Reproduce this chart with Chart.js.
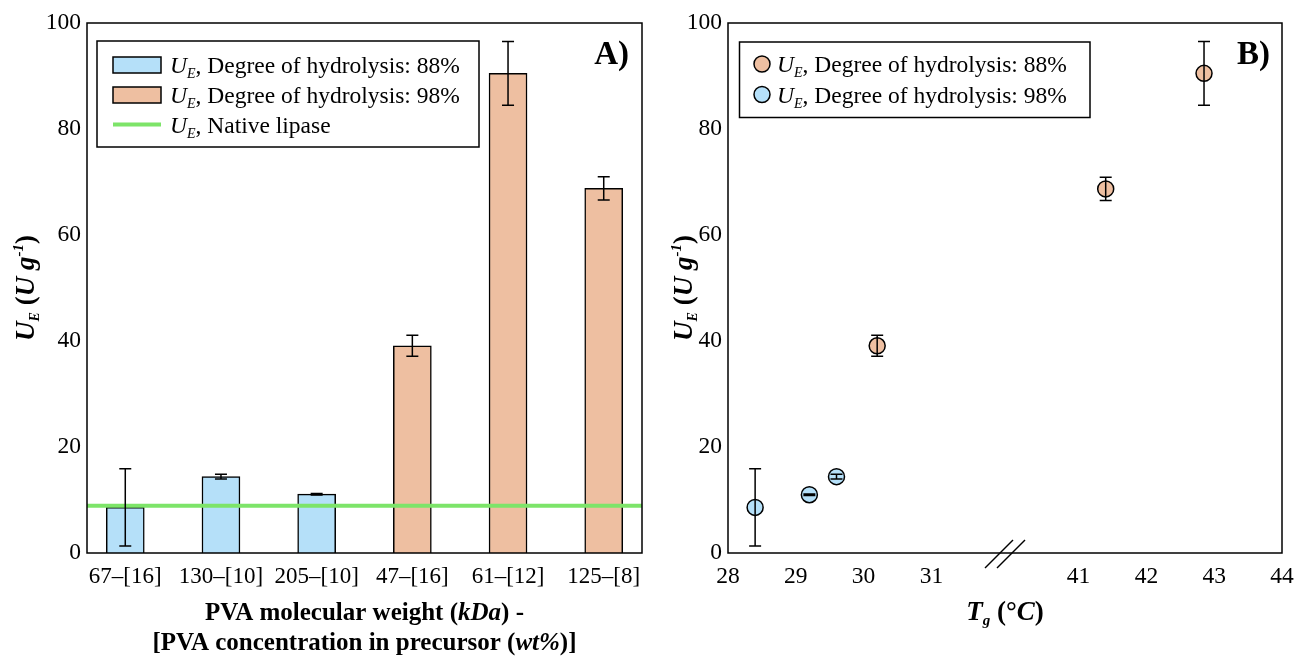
<!DOCTYPE html>
<html><head><meta charset="utf-8">
<script src="https://cdn.jsdelivr.net/npm/chart.js@4.4.1/dist/chart.umd.min.js"></script>
<style>
html,body{margin:0;padding:0;background:#fff;}
#wrap{position:relative;width:1295px;height:658px;overflow:hidden;}
canvas{position:absolute;top:0;}
#cA{left:0}
#cB{left:660px}
</style></head><body>
<div id="wrap"><canvas id="cA" width="660" height="658"></canvas><canvas id="cB" width="635" height="658"></canvas></div>
<script>
// ---------- Panel A data ----------
const categoriesA = ['67\u2013[16]','130\u2013[10]','205\u2013[10]','47\u2013[16]','61\u2013[12]','125\u2013[8]'];
const barsDH88 = [8.6, 14.4, 11.1];
const errDH88  = [7.3, 0.45, 0.15];
const barsDH98 = [39.1, 90.5, 68.8];
const errDH98  = [2.0, 6.0, 2.2];
const nativeLipase = 8.9;
const yTicks = [0, 20, 40, 60, 80, 100];

// ---------- Panel B data ----------
const tgBlue  = [28.4, 29.2, 29.6];
const ueBlue  = [8.6, 11.0, 14.4];
const errBlue = [7.3, 0.15, 0.45];
const tgOrange  = [30.2, 41.4, 42.85];
const ueOrange  = [39.1, 68.7, 90.5];
const errOrange = [2.0, 2.2, 6.0];
const tgTicks = [28, 29, 30, 31, 41, 42, 43, 44];
const legendB = ['Degree of hydrolysis: 88%', 'Degree of hydrolysis: 98%'];
const legendA = ['Degree of hydrolysis: 88%', 'Degree of hydrolysis: 98%', 'Native lipase'];

// broken axis mapping (31 -> 41 compressed)
const GAP = 2.17;
function tgPos(t){ return t <= 35 ? t - 28 : t - 41 + 3 + GAP; }

const SERIF = '"Liberation Serif", "Times New Roman", serif';
const BLUE = 'rgb(181,224,249)';
const ORANGE = 'rgb(238,191,161)';
const GREEN = 'rgb(125,228,105)';
const F = (s) => s + ' ' + SERIF;

function drawRich(ctx, segs, x, y, align){
  let w = 0;
  segs.forEach(s => { ctx.font = s.f; s.w = ctx.measureText(s.t).width; w += s.w; });
  let cx = align === 'center' ? x - w/2 : (align === 'right' ? x - w : x);
  ctx.textBaseline = 'alphabetic'; ctx.textAlign = 'left'; ctx.fillStyle = '#000';
  segs.forEach(s => { ctx.font = s.f; ctx.fillText(s.t, cx, y + (s.dy || 0)); cx += s.w; });
}
function ueSegs(){
  return [
    {t:'U', f:F('bold italic 27px')},
    {t:'E', f:F('bold italic 14px'), dy:5},
    {t:' (', f:F('bold 27px')},
    {t:'U g', f:F('bold italic 27px')},
    {t:'-1', f:F('bold italic 15px'), dy:-11},
    {t:')', f:F('bold 27px')}
  ];
}
function legSegs(txt){
  return [
    {t:'U', f:F('italic 23.5px')},
    {t:'E', f:F('italic 14px'), dy:5},
    {t:', ' + txt, f:F('23.5px')}
  ];
}

const framePlugin = {
  id:'frame',
  afterDraw(chart){
    const {ctx, chartArea:a} = chart;
    ctx.save(); ctx.strokeStyle = '#000'; ctx.lineWidth = 1.5;
    ctx.strokeRect(a.left, a.top, a.right - a.left, a.bottom - a.top);
    ctx.restore();
  }
};

const errorBarPlugin = {
  id:'errbars',
  afterDatasetsDraw(chart, args, opts){
    const {ctx} = chart; const ys = chart.scales.y;
    ctx.save(); ctx.strokeStyle = '#000'; ctx.lineWidth = 1.5;
    chart.data.datasets.forEach((ds, di) => {
      if (!ds.errors) return;
      const meta = chart.getDatasetMeta(di);
      meta.data.forEach((el, i) => {
        const v = ds.data[i].y, e = ds.errors[i];
        const x = el.x, y1 = ys.getPixelForValue(v - e), y2 = ys.getPixelForValue(v + e);
        const h = opts.cap;
        ctx.beginPath();
        ctx.moveTo(x, y1); ctx.lineTo(x, y2);
        ctx.moveTo(x - h, y1); ctx.lineTo(x + h, y1);
        ctx.moveTo(x - h, y2); ctx.lineTo(x + h, y2);
        ctx.stroke();
      });
    });
    ctx.restore();
  }
};

// ---------- Chart A ----------
const decoA = {
  id:'decoA',
  afterDraw(chart){
    const {ctx, chartArea:a} = chart;
    ctx.save();
    // legend
    ctx.fillStyle = '#fff'; ctx.strokeStyle = '#000'; ctx.lineWidth = 1.5;
    ctx.fillRect(97, 41, 382, 106); ctx.strokeRect(97, 41, 382, 106);
    const rows = [65, 95, 124.5];
    [BLUE, ORANGE].forEach((c, i) => {
      ctx.fillStyle = c; ctx.fillRect(113, rows[i] - 8, 48, 16);
      ctx.strokeStyle = '#000'; ctx.lineWidth = 1.5; ctx.strokeRect(113, rows[i] - 8, 48, 16);
    });
    ctx.strokeStyle = GREEN; ctx.lineWidth = 4;
    ctx.beginPath(); ctx.moveTo(113, rows[2]); ctx.lineTo(161, rows[2]); ctx.stroke();
    legendA.forEach((t, i) => drawRich(ctx, legSegs(t), 170, rows[i] + 8, 'left'));
    // panel label
    drawRich(ctx, [{t:'A)', f:F('bold 33px')}], a.right - 13, 64, 'right');
    // y title
    ctx.save(); ctx.translate(25, (a.top + a.bottom)/2); ctx.rotate(-Math.PI/2);
    drawRich(ctx, ueSegs(), 0, 9, 'center'); ctx.restore();
    // x title
    const cx = (a.left + a.right)/2;
    drawRich(ctx, [
      {t:'PVA molecular weight (', f:F('bold 25px')},
      {t:'kDa', f:F('bold italic 25px')},
      {t:') -', f:F('bold 25px')}], cx, 620, 'center');
    drawRich(ctx, [
      {t:'[PVA concentration in precursor (', f:F('bold 25px')},
      {t:'wt%', f:F('bold italic 25px')},
      {t:')]', f:F('bold 25px')}], cx, 650, 'center');
    ctx.restore();
  }
};

new Chart(document.getElementById('cA'), {
  type:'bar',
  data:{ datasets:[
    {type:'line', label:'Native lipase', order:0,
     data:[{x:-0.4, y:nativeLipase}, {x:5.4, y:nativeLipase}],
     borderColor:GREEN, borderWidth:4, pointRadius:0, fill:false},
    {type:'bar', label:legendA[0], order:1, grouped:false,
     data:barsDH88.map((v, i) => ({x:i, y:v})), errors:errDH88,
     backgroundColor:BLUE, borderColor:'#000', borderWidth:1.5, barThickness:38},
    {type:'bar', label:legendA[1], order:1, grouped:false,
     data:barsDH98.map((v, i) => ({x:i + 3, y:v})), errors:errDH98,
     backgroundColor:ORANGE, borderColor:'#000', borderWidth:1.5, barThickness:38}
  ]},
  options:{
    responsive:false, animation:false, devicePixelRatio:1,
    layout:{padding:{left:0, right:18, top:23, bottom:0}},
    plugins:{legend:{display:false}, tooltip:{enabled:false}, errbars:{cap:6}},
    scales:{
      x:{type:'linear', min:-0.4, max:5.4, offset:false,
         grid:{display:false, drawTicks:false}, border:{display:false},
         afterBuildTicks(s){ s.ticks = categoriesA.map((c, i) => ({value:i})); },
         ticks:{autoSkip:false, maxRotation:0, padding:10, color:'#000', font:{family:SERIF, size:23},
                callback:(v, i) => categoriesA[i]},
         afterFit(s){ s.height = 105; s.paddingLeft = 0; s.paddingRight = 0; }},
      y:{min:0, max:100,
         grid:{display:false, drawTicks:false}, border:{display:false},
         afterBuildTicks(s){ s.ticks = yTicks.map(v => ({value:v})); },
         ticks:{padding:6, color:'#000', font:{family:SERIF, size:23.5}},
         afterFit(s){ s.width = 87; s.paddingTop = 0; s.paddingBottom = 0; }}
    }
  },
  plugins:[errorBarPlugin, framePlugin, decoA]
});

// ---------- Chart B ----------
const decoB = {
  id:'decoB',
  afterDraw(chart){
    const {ctx, chartArea:a} = chart;
    const xs = chart.scales.x;
    ctx.save();
    // axis break marks
    const bx = xs.getPixelForValue(tgPos(31) + GAP * 0.5);
    ctx.strokeStyle = '#000'; ctx.lineWidth = 1.5;
    [-6, 6].forEach(off => {
      ctx.beginPath();
      ctx.moveTo(bx + off - 14, a.bottom + 15);
      ctx.lineTo(bx + off + 14, a.bottom - 13);
      ctx.stroke();
    });
    // legend
    ctx.fillStyle = '#fff'; ctx.lineWidth = 1.5;
    ctx.fillRect(79.5, 42, 350.5, 75.5); ctx.strokeRect(79.5, 42, 350.5, 75.5);
    const rows = [64, 94.5];
    [ORANGE, BLUE].forEach((c, i) => {
      ctx.beginPath(); ctx.arc(102, rows[i], 8, 0, Math.PI * 2);
      ctx.fillStyle = c; ctx.fill(); ctx.strokeStyle = '#000'; ctx.stroke();
    });
    legendB.forEach((t, i) => drawRich(ctx, legSegs(t), 117, rows[i] + 8, 'left'));
    // panel label
    drawRich(ctx, [{t:'B)', f:F('bold 33px')}], a.right - 12, 64, 'right');
    // y title
    ctx.save(); ctx.translate(23, (a.top + a.bottom)/2); ctx.rotate(-Math.PI/2);
    drawRich(ctx, ueSegs(), 0, 9, 'center'); ctx.restore();
    // x title
    drawRich(ctx, [
      {t:'T', f:F('bold italic 27px')},
      {t:'g', f:F('bold italic 15px'), dy:5},
      {t:' (\u00B0', f:F('bold 27px')},
      {t:'C', f:F('bold italic 27px')},
      {t:')', f:F('bold 27px')}], (a.left + a.right)/2, 620, 'center');
    ctx.restore();
  }
};

new Chart(document.getElementById('cB'), {
  type:'scatter',
  data:{ datasets:[
    {label:legendB[1], data:tgBlue.map((t, i) => ({x:tgPos(t), y:ueBlue[i]})), errors:errBlue,
     backgroundColor:BLUE, borderColor:'#000', pointRadius:8, pointBorderWidth:1.5},
    {label:legendB[0], data:tgOrange.map((t, i) => ({x:tgPos(t), y:ueOrange[i]})), errors:errOrange,
     backgroundColor:ORANGE, borderColor:'#000', pointRadius:8, pointBorderWidth:1.5}
  ]},
  options:{
    responsive:false, animation:false, devicePixelRatio:1,
    layout:{padding:{left:0, right:13, top:23, bottom:0}},
    plugins:{legend:{display:false}, tooltip:{enabled:false}, errbars:{cap:6}},
    scales:{
      x:{type:'linear', min:tgPos(tgTicks[0]), max:tgPos(tgTicks[tgTicks.length - 1]),
         grid:{display:false, drawTicks:false}, border:{display:false},
         afterBuildTicks(s){ s.ticks = tgTicks.map(t => ({value:tgPos(t)})); },
         ticks:{autoSkip:false, maxRotation:0, padding:10, color:'#000', font:{family:SERIF, size:23.5},
                callback:(v, i) => String(tgTicks[i])},
         afterFit(s){ s.height = 105; s.paddingLeft = 0; s.paddingRight = 0; }},
      y:{min:0, max:100,
         grid:{display:false, drawTicks:false}, border:{display:false},
         afterBuildTicks(s){ s.ticks = yTicks.map(v => ({value:v})); },
         ticks:{padding:6, color:'#000', font:{family:SERIF, size:23.5}},
         afterFit(s){ s.width = 68; s.paddingTop = 0; s.paddingBottom = 0; }}
    }
  },
  plugins:[errorBarPlugin, framePlugin, decoB]
});
</script>
</body></html>
